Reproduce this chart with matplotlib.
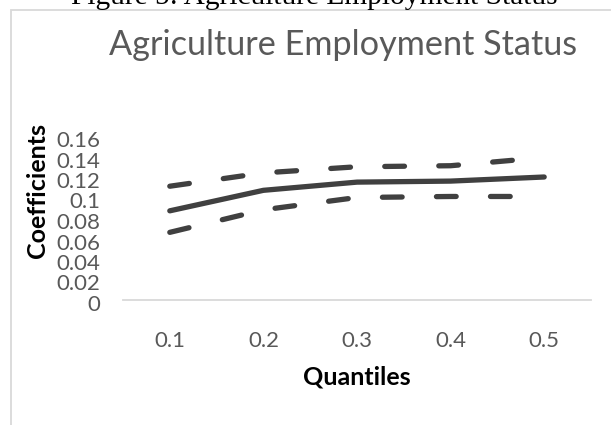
import matplotlib.pyplot as plt
import matplotlib.transforms as mtransforms
from matplotlib.patches import Rectangle

plt.rcParams['font.family'] = ['Lato', 'DejaVu Sans']
plt.rcParams['lines.scale_dashes'] = False

quantiles = ['0.1', '0.2', '0.3', '0.4', '0.5']
coef = [0.087, 0.107, 0.115, 0.116, 0.120]
upper = [0.111, 0.124, 0.130, 0.131, 0.139]
lower = [0.066, 0.088, 0.100, 0.101, 0.101]
yticks = [0, 0.02, 0.04, 0.06, 0.08, 0.1, 0.12, 0.14, 0.16]
ytick_labels = ['0', '0.02', '0.04', '0.06', '0.08', '0.1', '0.12', '0.14', '0.16']

W, H = 611, 425
fig = plt.figure(figsize=(W / 100, H / 100), dpi=100)
ax = fig.add_axes([123 / W, 1 - 300 / H, 468 / W, 164 / H])

line_col = '#404040'
grey = '#595959'
x = range(len(quantiles))
ax.plot(x, coef, color=line_col, lw=3.8, solid_capstyle='round', solid_joinstyle='round')
for band in (upper, lower):
    ax.plot(x, band, color=line_col, lw=3.8, dashes=(14.2, 24.7),
            dash_capstyle='round', dash_joinstyle='round')

ax.set_xlim(-0.5, len(quantiles) - 0.5)
ax.set_ylim(0, 0.16)
ax.set_xticks(list(x))
ax.set_xticklabels(quantiles)
ax.set_yticks(yticks)
ax.set_yticklabels(ytick_labels)
ax.tick_params(length=0, labelsize=16, labelcolor=grey)
ax.tick_params(axis='x', pad=22)
ax.tick_params(axis='y', pad=16.5)

# y labels sit a little below their gridline positions
shift = mtransforms.ScaledTranslation(0, -3 / 100, fig.dpi_scale_trans)
for lbl in ax.get_yticklabels():
    lbl.set_transform(lbl.get_transform() + shift)

for s in ('top', 'right', 'left'):
    ax.spines[s].set_visible(False)
ax.spines['bottom'].set_color('#d9d9d9')
ax.spines['bottom'].set_linewidth(1.3)

ax.set_xlabel('Quantiles', fontsize=18, fontweight='bold', color='black')
ax.xaxis.set_label_coords(0.5, (300 - 377) / 164)
ax.xaxis.label.set_va('center')
ax.set_ylabel('Coefficients', fontsize=18, fontweight='bold', color='black')
ax.yaxis.set_label_coords((37 - 123) / 468, (300 - 191) / 164)
ax.yaxis.label.set_va('center')

fig.text(343 / W, 1 - 44.7 / H, 'Agriculture Employment Status', fontsize=24.7,
         color=grey, ha='center', va='center')

# chart frame and document caption above it
fig.patches.append(Rectangle((11 / W, -0.1), 1.2, 1.1 - 10.5 / H, transform=fig.transFigure,
                             fill=False, edgecolor='#d9d9d9', lw=1.3))
fig.text(314 / W, 1 - 4 / H, 'Figure 5: Agriculture Employment Status',
         family='Liberation Serif', fontsize=21.2, color='black', ha='center', va='baseline')

fig.savefig('out.png', dpi=100)
